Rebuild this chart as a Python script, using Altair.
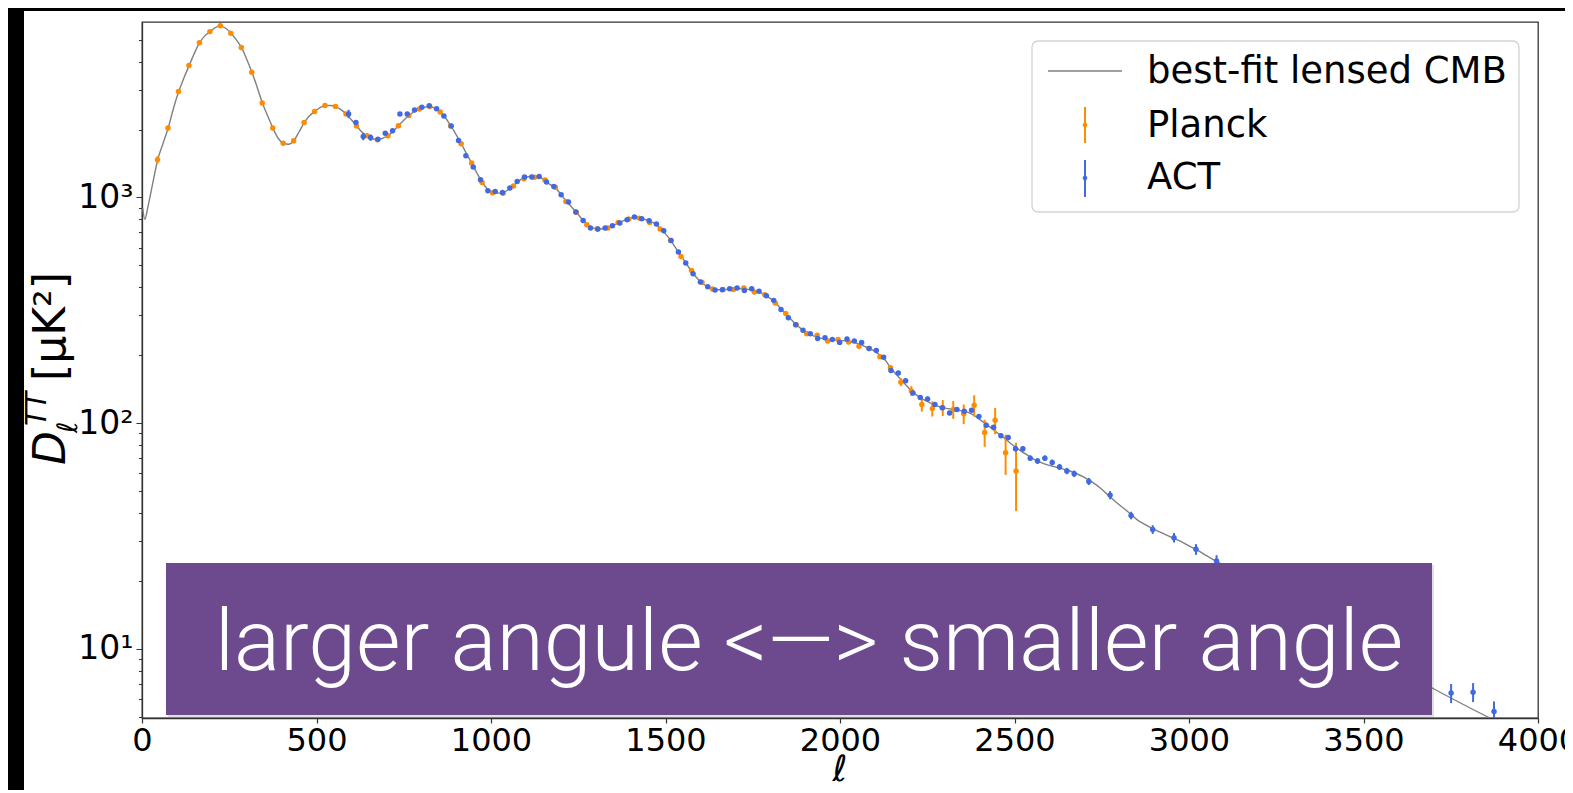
import altair as alt
import pandas as pd

# ---------------- data ----------------
curve_ell = [2, 8, 17, 31, 45, 60, 75, 90, 105, 120, 135, 150, 165, 180, 195, 210, 222, 240, 255, 270,
             285, 300, 315, 330, 345, 360, 375, 390, 405, 420, 435, 450, 465, 480, 495, 510, 525, 540, 555, 570,
             585, 600, 615, 630, 645, 660, 675, 690, 705, 720, 735, 750, 765, 780, 795, 810, 825, 840, 855, 870,
             885, 900, 915, 930, 945, 960, 975, 990, 1005, 1020, 1035, 1050, 1065, 1080, 1095, 1110, 1125, 1140,
             1155, 1170, 1185, 1200, 1215, 1230, 1245, 1260, 1275, 1290, 1305, 1320, 1335, 1350, 1365, 1380, 1395,
             1410, 1425, 1440, 1455, 1470, 1485, 1500, 1515, 1530, 1545, 1560, 1575, 1590, 1605, 1620, 1635, 1650,
             1665, 1680, 1695, 1710, 1725, 1740, 1755, 1770, 1785, 1800, 1815, 1830, 1845, 1860, 1875, 1890, 1905,
             1920, 1935, 1950, 1965, 1980, 1995, 2010, 2025, 2040, 2055, 2070, 2085, 2100, 2130, 2145, 2160, 2175,
             2190, 2205, 2220, 2235, 2250, 2265, 2280, 2295, 2310, 2325, 2340, 2355, 2370, 2385, 2400, 2415, 2430,
             2445, 2460, 2475, 2490, 2505, 2520, 2535, 2550, 2565, 2580, 2600, 2625, 2650, 2675, 2700, 2725, 2750,
             2775, 2800, 2825, 2850, 2875, 2900, 2925, 2950, 2975, 3000, 3025, 3050, 3075, 3100, 3710, 3861, 3950]
curve_D = [900, 800, 910, 1160, 1470, 1730, 2030, 2480, 2940, 3380, 3840, 4350, 4850, 5200, 5430, 5650, 5760, 5620, 5340, 5000,
           4620, 4100, 3590, 3080, 2620, 2300, 2030, 1830, 1740, 1720, 1783, 1950, 2148, 2300, 2403, 2500, 2553, 2555, 2528, 2450,
           2345, 2210, 2075, 1950, 1876, 1820, 1801, 1830, 1876, 1970, 2081, 2200, 2307, 2400, 2466, 2515, 2530, 2480, 2388, 2250,
           2075, 1900, 1730, 1560, 1419, 1280, 1165, 1090, 1051, 1045, 1050, 1085, 1130, 1185, 1220, 1238, 1240, 1228,
           1190, 1140, 1100, 1035, 965, 910, 858, 805, 760, 735, 725, 727, 733, 750, 772, 790, 805,
           815, 812, 800, 785, 765, 728, 690, 645, 595, 550, 508, 470, 440, 418, 403, 394, 390,
           390, 392, 394, 395, 393, 391, 386, 380, 369, 357, 342, 322, 305, 288, 273, 261, 251,
           245, 240, 237, 235, 234, 233, 232, 230, 228, 224, 219, 214, 208, 190, 176, 165, 156,
           147, 139, 133, 128, 125, 121, 119, 117, 116, 115, 114, 113, 111, 108, 104, 100, 96,
           92, 88.5, 85, 81, 78, 75, 72.5, 70, 68, 66.5, 65, 63.5, 62, 60, 57.5, 54.5, 51,
           47, 43.5, 40.5, 37.5, 35.5, 33.8, 32.5, 31.2, 30, 28.6, 27.3, 25.9, 24.6, 23.5, 6.54, 4.95, 4.25]

planck_ell = [44.5, 74.5, 104.5, 134.5, 164.5, 194.5, 224.5, 254.5, 284.5, 314.5,
              344.5, 374.5, 404.5, 434.5, 464.5, 494.5, 524.5, 554.5, 584.5, 614.5,
              644.5, 674.5, 704.5, 734.5, 764.5, 794.5, 824.5, 854.5, 884.5, 914.5,
              944.5, 974.5, 1004.5, 1034.5, 1064.5, 1094.5, 1124.5, 1154.5, 1184.5, 1214.5,
              1244.5, 1274.5, 1304.5, 1334.5, 1364.5, 1394.5, 1424.5, 1454.5, 1484.5, 1514.5,
              1544.5, 1574.5, 1604.5, 1634.5, 1664.5, 1694.5, 1724.5, 1754.5, 1784.5, 1814.5,
              1844.5, 1874.5, 1904.5, 1934.5, 1964.5, 1994.5, 2024.5, 2054.5, 2084.5, 2114.5,
              2144.5, 2174.5, 2204.5, 2234.5, 2264.5, 2294.5, 2324.5, 2354.5, 2384.5, 2414.5,
              2444.5, 2474.5, 2504.5]
planck_D = [1470, 2030, 2945, 3840, 4850, 5430, 5770, 5335, 4615, 3590,
            2620, 2030, 1740, 1785, 2150, 2405, 2555, 2530, 2345, 2075,
            1875, 1800, 1875, 2080, 2305, 2465, 2530, 2390, 2075, 1730,
            1420, 1165, 1050, 1045, 1125, 1210, 1230, 1195, 1110, 960,
            860, 757, 725, 732, 775, 802, 810, 775, 725, 645,
            548, 475, 421, 393, 391, 391, 397, 381, 371, 341,
            306, 273, 249, 245, 231, 235, 229, 219, 214, 197,
            176, 152, 139, 121, 116, 117, 115, 110, 120, 91,
            103, 74, 61.4]
planck_err = [56, 50, 55, 60, 60, 60, 60, 55, 50, 40,
              30, 25, 22, 20, 20, 20, 20, 20, 18, 16,
              15, 15, 15, 16, 17, 18, 18, 17, 15, 13,
              12, 11, 10, 10, 10, 10, 10, 10, 9, 8,
              8, 7, 7, 7, 7, 7, 7, 7, 7, 6,
              6, 5, 5, 5, 5, 5, 5, 5, 5, 5,
              5, 4, 4, 4, 4, 4, 4, 4, 4.5, 4.5,
              5, 6, 7, 8.5, 9, 9.5, 10.5, 11, 13, 12.5,
              13.7, 15, 20.6]

act_ell = [592, 613, 634, 655, 676, 697, 718, 739, 760, 781,
           802, 823, 844, 865, 886, 907, 928, 949, 970, 991,
           1012, 1033, 1054, 1075, 1096, 1117, 1138, 1159, 1180, 1201,
           1222, 1243, 1264, 1285, 1306, 1327, 1348, 1369, 1390, 1411,
           1432, 1453, 1474, 1495, 1516, 1537, 1558, 1579, 1600, 1621,
           1642, 1663, 1684, 1705, 1726, 1747, 1768, 1789, 1810, 1831,
           1852, 1873, 1894, 1915, 1936, 1957, 1978, 1999, 2020, 2041,
           2062, 2083, 2104, 2125, 2146, 2167, 2188, 2209, 2230, 2251,
           2272, 2293, 2314, 2335, 2356, 2377, 2398, 2419, 2440, 2461,
           2482, 2503, 2524, 2545, 2566, 2587, 2608, 2629, 2650, 2671,
           2713, 2774, 2834, 2896, 2957, 3020, 3079, 3751, 3814, 3874]
act_D = [2345, 2148, 1862, 1843, 1813, 1927, 1973, 2345, 2345, 2443,
         2510, 2550, 2470, 2297, 2075, 1788, 1530, 1363, 1198, 1071,
         1063, 1052, 1101, 1177, 1231, 1231, 1239, 1170, 1119, 1028,
         954, 862, 791, 732, 725, 732, 750, 770, 797, 819,
         805, 788, 763, 712, 645, 573, 512, 459, 422, 402,
         389, 390, 394, 397, 387, 394, 384, 367, 350, 319,
         293, 273, 258, 249, 237, 239, 235, 228, 236, 231,
         228, 214, 210, 196, 171, 167, 154, 136, 130, 128,
         121, 117, 111, 115, 113, 114, 107, 98, 96, 88,
         86.5, 77, 77, 70, 68, 70, 67, 64, 61.4, 59.7,
         55.2, 48, 39, 33.8, 31.1, 27.6, 24.5, 6.37, 6.43, 5.28]
act_err = [100, 40, 70, 60, 40,
           30, 30, 35, 35, 35, 35, 35, 35, 30, 30, 28, 25, 22, 20, 18, 16,
           16, 16, 17, 17, 17, 17, 16, 15, 14, 13, 12, 11, 11, 10, 10,
           10, 10, 10, 10, 10, 10, 9, 9, 8, 8, 7, 7, 6, 6, 6, 6,
           6, 6, 6, 6, 6, 5, 5, 5, 4, 4, 4, 4, 4, 4, 4, 4,
           4, 4, 3, 3, 3, 3, 3, 3, 3, 3, 3, 3, 2.5, 2.5, 2.5, 2.5,
           2.5, 2.5, 2.5, 2.5, 2, 2, 2, 2, 2, 2, 2, 2, 2, 2, 2, 2,
           2, 2, 1.5, 1.5, 1.5, 1.5, 1.5,
           0.62, 0.62, 0.57]

x_ticks = [0, 500, 1000, 1500, 2000, 2500, 3000, 3500, 4000]
y_ticks = [5, 6, 7, 8, 9, 10, 20, 30, 40, 50, 60, 70, 80, 90,
           100, 200, 300, 400, 500, 600, 700, 800, 900,
           1000, 2000, 3000, 4000, 5000]
legend_labels = ["best-fit lensed CMB", "Planck", "ACT"]
banner_text = "larger angule <\u2014> smaller angle"
x_title = "\u2113"

ORANGE = "#ff8c00"
BLUE = "#4169e1"
GRAY = "#808080"
FONT = "DejaVu Sans"
W, H = 1396, 696

# ---------------- tables ----------------
curve_df = pd.DataFrame({"ell": curve_ell, "D": curve_D})
planck_df = pd.DataFrame({"ell": planck_ell, "D": planck_D, "err": planck_err})
planck_df["lo"] = planck_df["D"] - planck_df["err"]
planck_df["hi"] = planck_df["D"] + planck_df["err"]
act_df = pd.DataFrame({"ell": act_ell, "D": act_D, "err": act_err})
act_df["lo"] = act_df["D"] - act_df["err"]
act_df["hi"] = act_df["D"] + act_df["err"]
one = pd.DataFrame({"k": [0]})

xscale = alt.Scale(domain=[0, 4000], nice=False, zero=False)
yscale = alt.Scale(type="log", domain=[4.94, 5990], nice=False)

is_major = "datum.value == 10 || datum.value == 100 || datum.value == 1000"
x_axis = alt.Axis(values=x_ticks, format="d", title=None, grid=False,
                  labelFont=FONT, labelFontSize=32, labelColor="black", labelPadding=2,
                  labelOverlap=False, labelFlush=False,
                  tickSize=5, tickColor="#333", tickWidth=1.2,
                  domainColor="#333", domainWidth=1.3)
y_axis = alt.Axis(values=y_ticks, title=None, grid=False,
                  labelExpr="datum.value == 10 ? '10\u00b9' : datum.value == 100 ? '10\u00b2' : datum.value == 1000 ? '10\u00b3' : ''",
                  labelFont=FONT, labelFontSize=33, labelColor="black", labelPadding=3,
                  labelOverlap=False, labelFlush=False,
                  tickSize={"condition": {"test": is_major, "value": 6}, "value": 3.5},
                  tickColor="#333", tickWidth=1.0,
                  domainColor="#333", domainWidth=1.3)

X = alt.X("ell:Q", scale=xscale, axis=x_axis)
Y = alt.Y("D:Q", scale=yscale, axis=y_axis)

curve = alt.Chart(curve_df).mark_line(color=GRAY, strokeWidth=1.4, interpolate="monotone", clip=True).encode(x=X, y=Y)

def series(df, color):
    bars = alt.Chart(df).mark_rule(color=color, strokeWidth=2, clip=True).encode(
        x=alt.X("ell:Q", scale=xscale),
        y=alt.Y("lo:Q", scale=yscale),
        y2="hi:Q")
    dots = alt.Chart(df).mark_circle(color=color, size=30, opacity=1, clip=True).encode(
        x=alt.X("ell:Q", scale=xscale), y=alt.Y("D:Q", scale=yscale))
    return bars + dots

planck = series(planck_df, ORANGE)
act = series(act_df, BLUE)

# ---------------- banner overlay ----------------
banner_shadow = alt.Chart(one).mark_rect(color="black", opacity=0.12).encode(
    x=alt.value(26), x2=alt.value(1292), y=alt.value(543), y2=alt.value(695))
banner = alt.Chart(one).mark_rect(color="#6c4a8d", opacity=1).encode(
    x=alt.value(24), x2=alt.value(1290), y=alt.value(541), y2=alt.value(693))
banner_txt = alt.Chart(one).mark_text(text=banner_text, font="Roboto", fontWeight=300, fontSize=86,
                                      color="white", align="center", baseline="alphabetic").encode(
    x=alt.value(667), y=alt.value(648))

# ---------------- legend ----------------
leg_df = pd.DataFrame({"label": legend_labels, "ty": [50, 104, 156]})
leg_frame = alt.Chart(one).mark_rect(fill="white", stroke="#d3d3d3", strokeWidth=1.3, cornerRadius=6).encode(
    x=alt.value(890), x2=alt.value(1377), y=alt.value(19), y2=alt.value(190))
leg_line = alt.Chart(one).mark_rule(color=GRAY, strokeWidth=1.4).encode(
    x=alt.value(906), x2=alt.value(980), y=alt.value(49))
leg_pbar = alt.Chart(one).mark_rule(color=ORANGE, strokeWidth=2).encode(
    x=alt.value(943), y=alt.value(85), y2=alt.value(121))
leg_pdot = alt.Chart(one).mark_circle(color=ORANGE, size=22, opacity=1).encode(
    x=alt.value(943), y=alt.value(103))
leg_abar = alt.Chart(one).mark_rule(color=BLUE, strokeWidth=2).encode(
    x=alt.value(943), y=alt.value(138), y2=alt.value(175))
leg_adot = alt.Chart(one).mark_circle(color=BLUE, size=22, opacity=1).encode(
    x=alt.value(943), y=alt.value(156))
leg_text = alt.Chart(leg_df).mark_text(font=FONT, fontSize=37, color="black", align="left", baseline="middle").encode(
    x=alt.value(1005), y=alt.Y("ty:Q", scale=None), text="label:N")

# ---------------- axis titles ----------------
t_D = alt.Chart(one).mark_text(text="D", font=FONT, fontStyle="italic", fontSize=44, angle=270,
                               align="left", baseline="alphabetic", color="black").encode(
    x=alt.value(-77), y=alt.value(443))
t_l = alt.Chart(one).mark_text(text="\u2113", font=FONT, fontStyle="italic", fontSize=28, angle=270,
                               align="left", baseline="alphabetic", color="black").encode(
    x=alt.value(-65), y=alt.value(411))
t_TT = alt.Chart(one).mark_text(text="TT", font=FONT, fontStyle="italic", fontSize=28, angle=270,
                                align="left", baseline="alphabetic", color="black").encode(
    x=alt.value(-96), y=alt.value(404))
t_unit = alt.Chart(one).mark_text(text="[\u03bcK\u00b2]", font=FONT, fontSize=44, angle=270,
                                  align="left", baseline="alphabetic", color="black").encode(
    x=alt.value(-77), y=alt.value(359))
t_x = alt.Chart(one).mark_text(text=x_title, font=FONT, fontStyle="italic", fontSize=36,
                               align="center", baseline="alphabetic", color="black").encode(
    x=alt.value(698), y=alt.value(759))

# ---------------- slide frame (black strips) ----------------
strip_left = alt.Chart(one).mark_rect(color="black").encode(
    x=alt.value(-134), x2=alt.value(-118), y=alt.value(-14), y2=alt.value(775))
strip_top = alt.Chart(one).mark_rect(color="black").encode(
    x=alt.value(-134), x2=alt.value(1425), y=alt.value(-14), y2=alt.value(-11))

chart = alt.layer(
    curve, planck, act,
    leg_frame, leg_line, leg_pbar, leg_pdot, leg_abar, leg_adot, leg_text,
    banner_shadow, banner, banner_txt,
    t_D, t_l, t_TT, t_unit, t_x,
    strip_left, strip_top,
).properties(
    width=W, height=H,
    autosize=alt.AutoSizeParams(type="none"),
    padding={"left": 134, "top": 14, "right": 27, "bottom": 72},
    background="white",
).configure_view(stroke="#333", strokeWidth=1.3)

chart.save("out.html", embed_options={"renderer": "svg", "actions": False})
